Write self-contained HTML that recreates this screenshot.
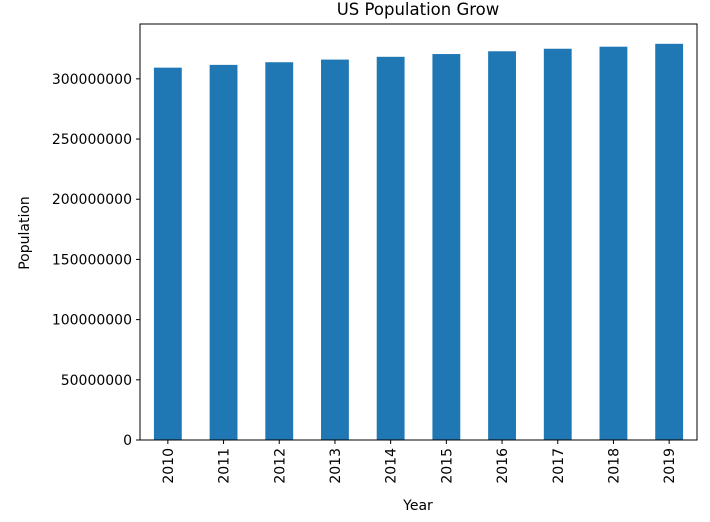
<!DOCTYPE html>
<html><head><meta charset="utf-8"><style>
body{margin:0;background:#fff;}
svg text{font-family:"DejaVu Sans","Liberation Sans",sans-serif;fill:#000;}
</style></head><body>
<svg id="chart" width="710" height="517" xmlns="http://www.w3.org/2000/svg">
<text x="418" y="15" font-size="16.5" text-anchor="middle">US Population Grow</text>
<g id="bars"></g><g id="axes"></g>
<text x="418" y="510" font-size="14" text-anchor="middle">Year</text>
<text transform="translate(29,233) rotate(-90)" font-size="14" text-anchor="middle">Population</text>
</svg>
<script>
const years=["2010","2011","2012","2013","2014","2015","2016","2017","2018","2019"];
const population=[309300000,311600000,313800000,316000000,318300000,320600000,322900000,325000000,326700000,329100000];
const yTicks=[0,50000000,100000000,150000000,200000000,250000000,300000000];
const NS="http://www.w3.org/2000/svg";
const L=140,R=697,T=24,B=440;
const ymax=Math.max(...population)*1.05;
const y=v=>B-(v/ymax)*(B-T);
const step=(R-L)/years.length;
const xc=i=>L+step*(i+0.5);
const bars=document.getElementById('bars'),axes=document.getElementById('axes');
function mk(t,a,p){const e=document.createElementNS(NS,t);for(const k in a)e.setAttribute(k,a[k]);p.appendChild(e);return e;}
population.forEach((v,i)=>{
 const r=mk('rect',{x:xc(i)-step/4,y:y(v),width:step/2,height:B-y(v),fill:'#1f77b4'},bars);
 
 
 mk('line',{x1:xc(i),x2:xc(i),y1:B,y2:B+4,stroke:'#000'},axes);
 const t=mk('text',{transform:`translate(${xc(i)+5},${B+8}) rotate(-90)`,'font-size':14,'text-anchor':'end'},axes);
 t.textContent=years[i];
 
 
});
yTicks.forEach(v=>{
 mk('line',{x1:L-4,x2:L,y1:y(v),y2:y(v),stroke:'#000'},axes);
 const t=mk('text',{x:L-8,y:y(v)+5,'font-size':14,'text-anchor':'end'},axes);
 t.textContent=String(v);
 
 
});
const f=mk('rect',{x:L,y:T,width:R-L,height:B-T,fill:'none',stroke:'#000','stroke-width':1},axes);


</script>
</body></html>
